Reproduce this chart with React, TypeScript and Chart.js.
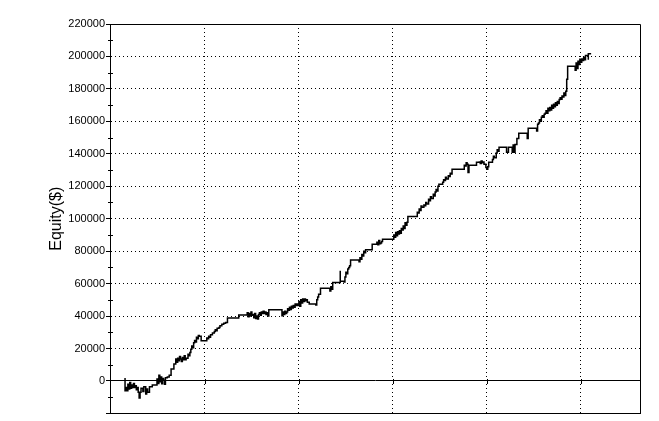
import React, { useEffect, useRef } from 'react';
import { Chart, registerables } from 'chart.js';

Chart.register(...registerables);

// Trade number (x) and account equity in $ (y)
const tradeNo: number[] = [
  15, 15, 16, 17, 18, 19, 20, 21, 22, 23, 24, 25, 26, 27, 28, 29, 30, 31, 32, 34, 35, 37, 38, 39, 41, 44,
  49, 50, 51, 52, 53, 54, 55, 56, 57, 58, 60, 62, 64, 67, 69, 70, 71, 72, 73, 74, 75, 76, 77, 78, 79, 80,
  82, 83, 84, 85, 86, 87, 88, 89, 90, 91, 92, 93, 94, 96, 102, 103, 104, 105, 106, 108, 110, 111, 112, 113,
  115, 116, 118, 120, 122, 124, 136, 145, 146, 147, 148, 149, 150, 151, 152, 153, 154, 155, 156, 157, 158,
  159, 160, 161, 162, 163, 164, 165, 166, 167, 168, 182, 183, 184, 185, 186, 187, 188, 189, 190, 191, 192,
  193, 194, 195, 196, 197, 198, 199, 200, 201, 202, 203, 204, 205, 206, 207, 208, 209, 211, 218, 219, 220,
  221, 223, 233, 234, 235, 236, 244, 244, 248, 249, 250, 251, 252, 253, 254, 255, 264, 265, 266, 267, 268,
  269, 270, 271, 278, 283, 284, 285, 286, 287, 288, 289, 301, 302, 303, 304, 305, 306, 307, 308, 309, 310,
  311, 312, 313, 314, 315, 316, 326, 327, 328, 329, 330, 331, 333, 334, 335, 336, 338, 339, 340, 341, 343,
  344, 345, 346, 347, 348, 349, 353, 354, 355, 356, 357, 359, 360, 361, 362, 363, 376, 377, 378, 379, 380,
  381, 389, 392, 393, 394, 395, 396, 397, 399, 400, 401, 402, 406, 407, 408, 410, 411, 412, 413, 421, 423,
  427, 428, 429, 430, 432, 434, 443, 444, 453, 454, 455, 456, 457, 458, 459, 460, 461, 462, 463, 464, 465,
  466, 467, 468, 469, 470, 471, 472, 473, 474, 475, 476, 477, 478, 479, 480, 481, 482, 483, 484, 485, 486,
  494, 495, 496, 497, 498, 499, 500, 501, 502, 503, 504, 505, 508, 508, 511,
];

const equity: number[] = [
  1800, -6000, -4000, -6000, -2000, -5000, -1000, -4500, -2500, -4000, -1500, -4000, -3000, -5500, -4000,
  -7000, -10500, -7000, -4500, -6500, -3500, -8000, -5000, -7000, -3500, -2500,
  1200, -1500, 3500, -500, 2500, -1800, 1500, 500, -2000, 2000, 2500, 3500, 7400, 10500, 13500, 11500, 14000,
  12500, 15000, 13500, 12000, 14500, 13000, 15500, 13000, 14000,
  16500, 15500, 17500, 19500, 21500, 20500, 23500, 25000, 24000, 27000, 26000, 28000, 27500, 24800, 26500,
  26000, 27500, 27000, 28500, 29500, 30500, 31500, 31000, 32500,
  33000, 34000, 35000, 35500, 36000, 38800, 40600, 42000, 39500, 41500, 40000, 42500, 40500, 41000, 39000,
  41500, 38500, 40000, 38200, 41000, 42000,
  40500, 42500, 41500, 43000, 41500, 42500, 41000, 42000, 40000, 43900, 40200, 42500, 41000, 43000, 41500,
  42500, 44500, 43500, 45500, 44000, 46000,
  45000, 46500, 45500, 47500, 46500, 47500, 46500, 49000, 46000, 50000, 48000, 50500, 49000, 50500, 49500,
  50000, 48500, 47400, 46800, 50000, 51700,
  53500, 57200, 55500, 58000, 56500, 60700, 67900, 61500, 61000, 64000, 67000, 66000, 69000, 70000, 71000,
  74500, 73500, 76000, 75000, 78000, 77000,
  80000, 79000, 80800, 84300, 85500, 84000, 86500, 84500, 85000, 86000, 87400, 90000, 88600, 91500, 89500,
  92000, 90500, 92500, 91000, 94000, 93000,
  95500, 94000, 97500, 96000, 97800, 101300, 104000, 103500, 106000, 105000, 107900, 107000, 108500, 108000,
  110000, 109000, 112000, 111000, 113500, 112500, 115000,
  114000, 116500, 118000, 117000, 120000, 121200, 122500, 124000, 123500, 125500, 124500, 126500, 126000,
  128000, 127500, 130500, 133000, 132500, 134500, 133500, 128500,
  132900, 134800, 135000, 134000, 135500, 134500, 135000, 133500, 131500, 130500, 132000, 134800, 136500,
  138500, 137500, 140500, 142500, 141500, 144000, 141000, 144000,
  141000, 145500, 140900, 145800, 149500, 152600, 149500, 155700, 154000, 158200, 159000, 161000, 160000,
  162500, 163500, 162500, 164300, 165000, 166500, 165000, 168000,
  166500, 168600, 167000, 170000, 168000, 170500, 169000, 171500, 170000, 172300, 171000, 173500, 174500,
  173600, 175600, 175000, 177500, 176000, 178500, 186000, 194000,
  191500, 196000, 192500, 197000, 195000, 198200, 196500, 198500, 197500, 199500, 198000, 200600, 198000,
  201700, 201700,
];

const yMin = -20000;
const yMax = 220000;
const yStep = 10000;
const yLabelStep = 20000;
const xMin = -1;
const xMax = 563;
const xStep = 100;
const yTitle = 'Equity($)';

const FONT = "'Liberation Sans', Arial, sans-serif";

const framePlugin = {
  id: 'frame',
  beforeDatasetsDraw(chart: any) {
    const { ctx, chartArea: a, scales } = chart;
    const xs = scales.x;
    const ys = scales.y;
    ctx.save();
    ctx.strokeStyle = '#000';
    ctx.lineWidth = 1;
    ctx.setLineDash([]);
    ctx.beginPath();
    const l = Math.round(a.left) + 0.5;
    const r = Math.round(a.right) + 0.5;
    const t = Math.round(a.top) + 0.5;
    const b = Math.round(a.bottom) + 0.5;
    ctx.moveTo(l, t);
    ctx.lineTo(r, t);
    ctx.lineTo(r, b);
    ctx.lineTo(l - 2, b);
    // small tick marks on the zero line at each vertical grid line
    const y0 = Math.round(ys.getPixelForValue(0)) + 0.5;
    xs.ticks.forEach((tk: any) => {
      if (tk.value > 0 && tk.value % xStep === 0) {
        const px = Math.round(xs.getPixelForValue(tk.value)) + 0.5;
        ctx.moveTo(px, y0 - 2.5);
        ctx.lineTo(px, y0 + 2.5);
      }
    });
    // minor ticks crossing the y axis
    ys.ticks.forEach((tk: any) => {
      if (tk.value % yLabelStep !== 0) {
        const py = Math.round(ys.getPixelForValue(tk.value)) + 0.5;
        ctx.moveTo(l - 2.5, py);
        ctx.lineTo(l + 2.5, py);
      }
    });
    ctx.stroke();
    ctx.restore();
  },
};

export default function App() {
  const ref = useRef<HTMLCanvasElement | null>(null);

  useEffect(() => {
    if (!ref.current) return;
    const points = tradeNo.map((x, i) => ({ x, y: equity[i] }));
    const chart = new Chart(ref.current, {
      type: 'line',
      data: {
        datasets: [
          {
            data: points,
            borderColor: '#000',
            borderWidth: 1.5,
            pointRadius: 0,
            stepped: true,
            fill: false,
            tension: 0,
          },
        ],
      },
      options: {
        animation: false,
        responsive: false,
        events: [],
        layout: { padding: { left: 0, top: 24, right: 19, bottom: 7 } },
        plugins: {
          legend: { display: false },
          tooltip: { enabled: false },
          title: { display: false },
        },
        scales: {
          x: {
            type: 'linear',
            min: xMin,
            max: xMax,
            ticks: { display: false, stepSize: xStep },
            grid: {
              color: (c: any) =>
                c.tick && c.tick.value > 0 && c.tick.value % xStep === 0 ? '#000' : 'rgba(0,0,0,0)',
              lineWidth: 1,
              drawTicks: false,
            },
            border: { display: true, color: '#000', width: 1, dash: [1, 3] },
            afterFit: (s: any) => {
              s.height = 0;
            },
          },
          y: {
            type: 'linear',
            min: yMin,
            max: yMax,
            ticks: {
              stepSize: yStep,
              autoSkip: false,
              padding: 1,
              color: '#000',
              font: { family: FONT, size: 11 },
              callback: (v: any) => (v % yLabelStep === 0 && v > yMin ? String(v) : ''),
            },
            grid: {
              color: (c: any) =>
                c.tick && c.tick.value % yLabelStep === 0 ? '#000' : 'rgba(0,0,0,0)',
              lineWidth: 1,
              drawTicks: true,
              tickLength: 4,
              tickColor: (c: any) =>
                c.tick && c.tick.value % yLabelStep === 0 ? '#000' : 'rgba(0,0,0,0)',
              tickBorderDash: [],
            },
            border: {
              display: true,
              color: '#000',
              width: 1,
              dash: (c: any) => (c.tick && c.tick.value === 0 ? [] : [1, 3]),
            },
            title: {
              display: true,
              text: yTitle,
              color: '#000',
              font: { family: FONT, size: 16 },
              padding: { top: 47, bottom: 0 },
            },
            afterFit: (s: any) => {
              s.width = 110;
            },
          },
        },
      },
      plugins: [framePlugin],
    });
    return () => chart.destroy();
  }, []);

  return (
    <div
      style={{
        position: 'fixed',
        left: 0,
        top: 0,
        width: 659,
        height: 421,
        background: '#fff',
      }}
    >
      <canvas ref={ref} width={659} height={421} style={{ display: 'block' }} />
    </div>
  );
}
